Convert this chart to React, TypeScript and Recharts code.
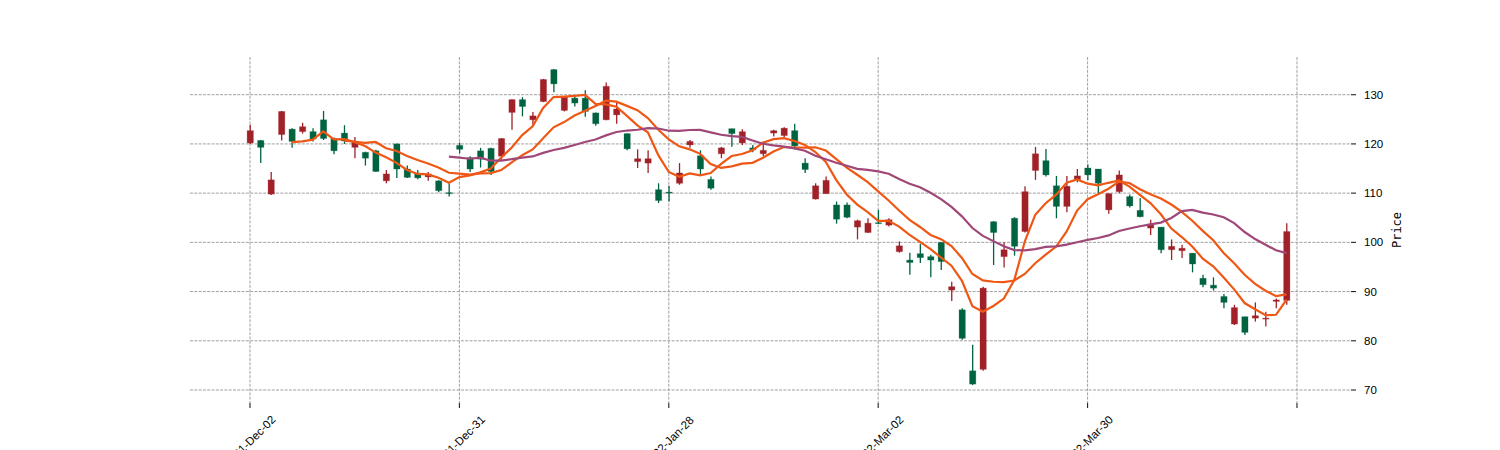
import React from "react";
import { ComposedChart, Bar, Line, XAxis, YAxis, CartesianGrid } from "recharts";

const OPEN = [120.2,120.7,109.8,121.9,123.0,122.5,122.5,124.9,121.1,122.2,119.3,118.3,118.6,112.5,120.0,114.9,114.0,113.3,112.5,110.1,119.7,117.2,118.6,119.1,117.5,126.4,129.0,124.9,128.6,135.1,126.8,129.3,129.3,126.3,124.9,125.9,122.1,116.4,116.1,110.7,110.2,112.0,119.8,117.6,112.8,118.0,123.1,120.2,119.2,118.0,122.2,121.7,122.7,116.1,108.8,109.9,107.6,107.6,103.1,102.0,104.0,103.5,98.1,96.4,97.7,97.1,100.0,90.3,86.3,73.9,74.2,104.2,97.1,104.9,102.2,114.6,116.6,111.5,107.3,112.7,115.1,114.9,106.6,110.3,109.3,106.5,102.9,103.1,98.5,98.3,97.8,92.7,91.3,89.0,83.4,84.9,84.6,84.4,88.0,88.2];
const HIGH = [123.9,120.8,114.3,126.7,123.2,124.3,123.2,126.7,121.3,123.8,121.4,118.4,118.8,114.7,120.1,115.6,114.7,114.3,112.6,112.0,120.3,117.5,119.2,119.2,121.2,129.1,129.5,126.5,133.2,135.2,129.7,129.7,130.9,126.4,132.5,128.3,122.1,118.9,118.7,112.0,111.5,116.1,120.8,118.7,113.4,119.4,123.1,123.0,119.8,120.5,122.9,123.4,124.1,117.1,112.0,113.4,108.3,108.1,104.6,104.9,106.6,104.9,100.2,97.9,99.7,97.5,100.0,92.0,86.6,79.2,91.0,104.3,100.0,105.1,111.4,119.4,118.95,113.5,113.5,114.9,115.8,114.9,110.0,114.6,109.7,109.0,104.6,103.1,100.6,99.5,97.8,93.4,92.9,89.5,87.3,84.9,87.8,85.9,88.6,103.9];
const LOW = [120.0,116.1,109.6,120.7,119.2,122.1,120.5,120.8,117.9,120.0,117.1,115.6,114.3,112.0,113.1,113.1,112.8,112.5,110.2,109.3,118.1,114.3,115.2,113.7,116.8,122.9,125.6,123.9,128.5,130.5,126.6,127.6,125.5,123.7,124.8,124.1,118.7,115.1,114.1,108.0,108.3,111.7,119.2,113.7,110.7,117.1,119.4,119.8,118.3,117.5,121.5,121.4,118.9,114.1,108.7,109.8,103.8,104.9,100.6,101.9,103.7,103.2,97.9,93.4,95.8,92.9,94.4,88.1,80.2,71.0,73.9,95.4,94.9,97.3,102.0,112.7,113.4,104.9,106.1,112.2,112.6,110.0,105.8,110.0,107.1,105.1,101.5,97.8,96.4,96.8,93.9,90.9,90.2,86.6,83.2,81.2,83.9,82.9,86.6,87.3];
const CLOSE = [122.7,119.3,112.7,126.6,120.5,123.5,121.0,121.1,118.6,120.6,120.5,117.1,114.4,113.9,114.9,113.2,113.1,113.9,110.5,109.9,118.9,114.9,116.9,114.4,121.1,129.0,127.6,125.7,133.1,132.2,129.5,128.3,126.6,124.1,131.7,127.1,119.0,117.0,117.0,108.5,110.0,114.1,120.5,114.9,111.0,119.2,122.1,122.5,118.8,118.7,122.7,123.2,119.6,114.8,111.5,112.6,104.7,105.1,104.4,103.9,103.8,104.6,99.3,95.9,96.9,96.4,96.1,91.0,80.5,71.2,90.7,102.0,98.5,99.2,110.3,118.0,113.7,107.3,111.4,113.5,113.7,112.0,109.9,113.7,107.4,105.2,103.7,98.5,99.2,98.8,95.6,91.4,90.7,87.8,86.75,81.7,85.1,84.6,88.3,102.2];

const TICK_INDEX = [0, 20, 40, 60, 80, 100];
const TICK_LABELS = ["2021-Dec-02", "2021-Dec-31", "2022-Jan-28", "2022-Mar-02", "2022-Mar-30", ""];
const Y_TICKS = [70, 80, 90, 100, 110, 120, 130];
const MA_PERIODS = [5, 10, 20];

const UP_COLOR = "#a02128";
const DOWN_COLOR = "#006340";
const MA_COLORS = ["#ef5714", "#ef5714", "#9f4878"];

const X_DOMAIN: [number, number] = [-5.73, 105.16];
const Y_DOMAIN: [number, number] = [67.36, 137.66];

function movingAverage(values: number[], n: number): (number | null)[] {
  return values.map((_, i) => {
    if (i < n - 1) return null;
    let s = 0;
    for (let k = i - n + 1; k <= i; k++) s += values[k];
    return s / n;
  });
}

const MAS = MA_PERIODS.map((n) => movingAverage(CLOSE, n));

const data = CLOSE.map((c, i) => ({
  i,
  open: OPEN[i],
  high: HIGH[i],
  low: LOW[i],
  close: c,
  range: [LOW[i], HIGH[i]],
  ma0: MAS[0][i],
  ma1: MAS[1][i],
  ma2: MAS[2][i],
}));

function Candle(props: any) {
  const { x, y, width, height, payload } = props;
  if (!payload) return null;
  const { open, close, high, low } = payload;
  const up = close >= open;
  const color = up ? UP_COLOR : DOWN_COLOR;
  const top0 = Math.min(y, y + height);
  const h = Math.abs(height);
  const ppu = high - low > 0 ? h / (high - low) : 0;
  const cx = x + width / 2;
  const bt = top0 + (high - Math.max(open, close)) * ppu;
  const bb = top0 + (high - Math.min(open, close)) * ppu;
  const bw = 6.3;
  return (
    <g>
      <line x1={cx} x2={cx} y1={top0} y2={top0 + h} stroke={color} strokeWidth={1.3} />
      <rect x={cx - bw / 2} y={bt} width={bw} height={Math.max(bb - bt, 0.9)} fill={color} stroke={color} strokeOpacity={0.25} strokeWidth={1} />
    </g>
  );
}

function XTick(props: any) {
  const { x, payload } = props;
  const idx = TICK_INDEX.indexOf(payload.value);
  const label = idx >= 0 ? TICK_LABELS[idx] : "";
  if (!label) return null;
  const cy = 441;
  return (
    <text x={x} y={cy} textAnchor="middle" dominantBaseline="central" transform={`rotate(-45 ${x} ${cy})`} fontSize={11.5} fill="#000">
      {label}
    </text>
  );
}

function PriceLabel(props: any) {
  const vb = props.viewBox || { x: 1351, y: 57, width: 60, height: 346 };
  const cx = vb.x + 46;
  const cy = vb.y + vb.height / 2;
  return (
    <text x={cx} y={cy} textAnchor="middle" dominantBaseline="central" transform={`rotate(-90 ${cx} ${cy})`} fontSize={12} fontFamily="DejaVu Sans Mono" fill="#000">
      Price
    </text>
  );
}

function scaleOf(axis: any, v: number, fallback: number) {
  if (axis && typeof axis.scale === "function") return axis.scale(v);
  if (axis && axis.scale && typeof axis.scale.map === "function") return axis.scale.map(v);
  return fallback;
}

export default function App() {
  return (
    <div style={{ position: "absolute", left: 0, top: 0, width: 1500, height: 450, background: "#fff", fontFamily: "Liberation Sans, sans-serif" }}>
      <ComposedChart width={1500} height={450} data={data} margin={{ top: 57, right: 89, bottom: 7, left: 190 }}>
        <CartesianGrid
          stroke="#a0a0a0"
          strokeDasharray="3 1.3"
          strokeWidth={1}
          horizontalCoordinatesGenerator={(p: any) =>
            Y_TICKS.map((t) => scaleOf(p.yAxis, t, p.offset.top + p.offset.height * (Y_DOMAIN[1] - t) / (Y_DOMAIN[1] - Y_DOMAIN[0])))
          }
          verticalCoordinatesGenerator={(p: any) =>
            TICK_INDEX.map((t) => scaleOf(p.xAxis, t, p.offset.left + p.offset.width * (t - X_DOMAIN[0]) / (X_DOMAIN[1] - X_DOMAIN[0])))
          }
        />
        <XAxis
          type="number"
          dataKey="i"
          domain={X_DOMAIN}
          ticks={TICK_INDEX}
          allowDataOverflow
          axisLine={false}
          tickLine={{ stroke: "#222", strokeWidth: 1.1 }}
          tickSize={5}
          height={40}
          tick={<XTick />}
          interval={0}
        />
        <YAxis
          orientation="right"
          domain={Y_DOMAIN}
          ticks={Y_TICKS}
          allowDataOverflow
          axisLine={false}
          tickLine={{ stroke: "#222", strokeWidth: 1.1 }}
          tickSize={5}
          tickMargin={8}
          width={60}
          tick={{ fontSize: 11.5, fill: "#000" }}
          label={<PriceLabel />}
        />
        <Bar dataKey="range" shape={<Candle />} barSize={7} isAnimationActive={false} />
        <Line type="linear" dataKey="ma0" stroke={MA_COLORS[0]} strokeWidth={2.2} dot={false} activeDot={false} isAnimationActive={false} />
        <Line type="linear" dataKey="ma1" stroke={MA_COLORS[1]} strokeWidth={2.2} dot={false} activeDot={false} isAnimationActive={false} />
        <Line type="linear" dataKey="ma2" stroke={MA_COLORS[2]} strokeWidth={2.2} dot={false} activeDot={false} isAnimationActive={false} />
      </ComposedChart>
    </div>
  );
}
